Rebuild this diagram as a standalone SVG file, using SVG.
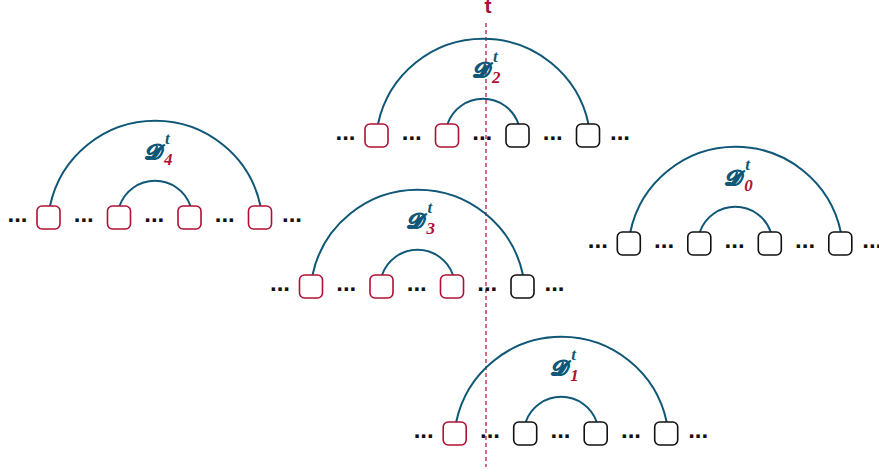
<svg xmlns="http://www.w3.org/2000/svg" width="879" height="473" viewBox="0 0 879 473">
<style>
.rb{fill:#fff;stroke:#b01035;stroke-width:1.6}
.bb{fill:#fff;stroke:#111;stroke-width:1.6}
.arc{fill:none;stroke:#0f5777;stroke-width:2}
.dots{font-family:"Liberation Sans",Arial,sans-serif;font-weight:bold;font-size:24px;fill:#111;text-anchor:middle}
.D{font-family:"DejaVu Serif","DejaVu Sans",serif;font-style:italic;font-weight:bold;font-size:21px;fill:#0f5777;stroke:#0f5777;stroke-width:1.1;stroke-linejoin:round}
.sup{font-family:"Liberation Serif",serif;font-style:italic;font-weight:bold;font-size:17px;fill:#0f5777}
.sub{font-family:"Liberation Serif",serif;font-style:italic;font-weight:bold;font-size:17px;fill:#b01035}
</style>
<defs>
<g id="arcs">
<path class="arc" d="M1.5,0 A107.6,107.6 0 0 1 212,0"/>
<path class="arc" d="M71,0 A37.6,37.6 0 0 1 142,0"/>
</g>
<g id="dotrow">
<text class="dots" x="-31" y="16">...</text>
<text class="dots" x="35.3" y="16">...</text>
<text class="dots" x="105.8" y="16">...</text>
<text class="dots" x="176.3" y="16">...</text>
<text class="dots" x="243.5" y="16">...</text>
</g>
</defs>
<g id="tline">
<line x1="486" y1="23" x2="486" y2="467" stroke="#b01035" stroke-width="1.2" stroke-dasharray="4 3"/>
<text x="488" y="13" font-family="Liberation Sans,Arial,sans-serif" font-weight="bold" font-size="21" fill="#b01035" text-anchor="middle">t</text>
</g>
<g id="connectors">
<use href="#arcs" transform="translate(376.5,124)"/>
<use href="#arcs" transform="translate(48.5,206)"/>
<use href="#arcs" transform="translate(628.8,232)"/>
<use href="#arcs" transform="translate(311,275)"/>
<use href="#arcs" transform="translate(454.7,422)"/>
</g>
<g id="D2" transform="translate(376.5,124)">
<use href="#dotrow"/>
<rect class="rb" x="-11.5" y="0" width="23" height="23" rx="5"/>
<rect class="rb" x="59" y="0" width="23" height="23" rx="5"/>
<rect class="bb" x="129.5" y="0" width="23" height="23" rx="5"/>
<rect class="bb" x="200" y="0" width="23" height="23" rx="5"/>
<text class="D" x="95" y="-47">𝒟</text>
<text class="sup" x="116.5" y="-62">t</text>
<text class="sub" x="115.5" y="-41">2</text>
</g>
<g id="D4" transform="translate(48.5,206)">
<use href="#dotrow"/>
<rect class="rb" x="-11.5" y="0" width="23" height="23" rx="5"/>
<rect class="rb" x="59" y="0" width="23" height="23" rx="5"/>
<rect class="rb" x="129.5" y="0" width="23" height="23" rx="5"/>
<rect class="rb" x="200" y="0" width="23" height="23" rx="5"/>
<text class="D" x="95" y="-47">𝒟</text>
<text class="sup" x="116.5" y="-62">t</text>
<text class="sub" x="115.5" y="-41">4</text>
</g>
<g id="D0" transform="translate(628.8,232)">
<use href="#dotrow"/>
<rect class="bb" x="-11.5" y="0" width="23" height="23" rx="5"/>
<rect class="bb" x="59" y="0" width="23" height="23" rx="5"/>
<rect class="bb" x="129.5" y="0" width="23" height="23" rx="5"/>
<rect class="bb" x="200" y="0" width="23" height="23" rx="5"/>
<text class="D" x="95" y="-47">𝒟</text>
<text class="sup" x="116.5" y="-62">t</text>
<text class="sub" x="115.5" y="-41">0</text>
</g>
<g id="D3" transform="translate(311,275)">
<use href="#dotrow"/>
<rect class="rb" x="-11.5" y="0" width="23" height="23" rx="5"/>
<rect class="rb" x="59" y="0" width="23" height="23" rx="5"/>
<rect class="rb" x="129.5" y="0" width="23" height="23" rx="5"/>
<rect class="bb" x="200" y="0" width="23" height="23" rx="5"/>
<text class="D" x="95" y="-47">𝒟</text>
<text class="sup" x="116.5" y="-62">t</text>
<text class="sub" x="115.5" y="-41">3</text>
</g>
<g id="D1" transform="translate(454.7,422)">
<use href="#dotrow"/>
<rect class="rb" x="-11.5" y="0" width="23" height="23" rx="5"/>
<rect class="bb" x="59" y="0" width="23" height="23" rx="5"/>
<rect class="bb" x="129.5" y="0" width="23" height="23" rx="5"/>
<rect class="bb" x="200" y="0" width="23" height="23" rx="5"/>
<text class="D" x="95" y="-47">𝒟</text>
<text class="sup" x="116.5" y="-62">t</text>
<text class="sub" x="115.5" y="-41">1</text>
</g>
</svg>
